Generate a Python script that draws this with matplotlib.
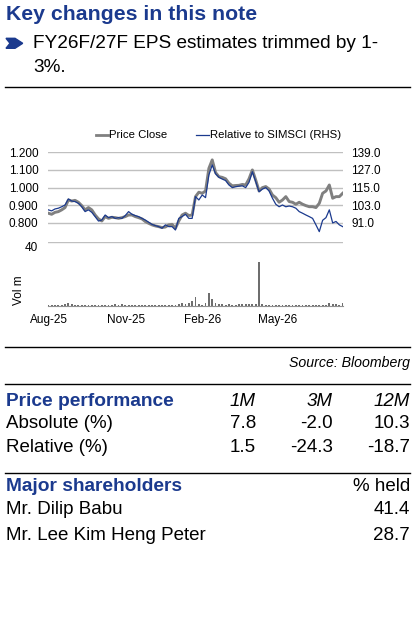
import matplotlib
matplotlib.use("Agg")
import matplotlib.pyplot as plt
from matplotlib.patches import Polygon
from matplotlib.lines import Line2D
import pandas as pd

plt.rcParams['font.family'] = ['Liberation Sans', 'DejaVu Sans']

# ---------------- data ----------------
price_close = [
    0.855, 0.849, 0.860, 0.864, 0.874, 0.887, 0.930, 0.924, 0.928, 0.917,
    0.898, 0.874, 0.887, 0.874, 0.845, 0.823, 0.811, 0.836, 0.826, 0.832,
    0.830, 0.826, 0.830, 0.836, 0.845, 0.845, 0.836, 0.830, 0.823, 0.808,
    0.798, 0.789, 0.783, 0.779, 0.774, 0.777, 0.789, 0.792, 0.770, 0.811,
    0.845, 0.855, 0.842, 0.845, 0.949, 0.974, 0.968, 0.981, 1.109, 1.157,
    1.085, 1.062, 1.058, 1.050, 1.025, 1.010, 1.012, 1.013, 1.018, 1.015,
    1.050, 1.100, 1.043, 0.981, 1.000, 1.006, 0.992, 0.958, 0.943, 0.917,
    0.930, 0.949, 0.921, 0.917, 0.906, 0.917, 0.906, 0.898, 0.892, 0.892,
    0.887, 0.911, 0.968, 0.981, 1.015, 0.940, 0.949, 0.949, 0.968,
]
relative_simsci = [
    99.9, 99.2, 100.5, 101.0, 102.0, 103.2, 107.3, 105.9, 105.5, 104.3,
    102.0, 98.7, 99.9, 98.2, 95.3, 92.3, 93.0, 96.4, 94.6, 95.3,
    94.1, 94.6, 94.1, 96.0, 98.7, 96.9, 96.0, 95.3, 94.1, 93.0,
    91.5, 90.0, 89.2, 88.5, 87.4, 89.7, 88.5, 88.5, 86.2, 94.1,
    95.3, 96.9, 94.1, 94.1, 108.9, 106.6, 110.0, 108.2, 123.6, 130.4,
    124.4, 122.0, 120.8, 119.8, 116.8, 115.0, 115.6, 116.0, 116.2, 115.0,
    118.6, 125.8, 119.1, 112.2, 114.0, 115.0, 112.7, 107.8, 103.7, 102.0,
    103.2, 102.0, 102.5, 102.0, 101.0, 98.7, 97.6, 96.4, 95.3, 94.1,
    89.7, 85.1, 92.8, 94.6, 99.9, 91.0, 92.0, 89.7, 88.5,
]
volume_m = [
    0.3, 0.5, 0.4, 0.6, 0.5, 1.0, 1.8, 0.8, 0.7, 0.6,
    0.5, 0.6, 0.4, 0.5, 0.6, 0.4, 0.5, 0.3, 0.4, 0.5,
    0.8, 0.7, 0.8, 0.6, 0.4, 0.3, 0.4, 0.3, 0.2, 0.3,
    0.2, 0.3, 0.2, 0.3, 0.4, 0.3, 0.5, 0.4, 0.6, 0.9,
    1.5, 1.0, 2.0, 3.0, 5.5, 1.0, 0.5, 1.5, 8.0, 4.5,
    1.5, 1.0, 0.8, 0.7, 0.8, 0.7, 0.6, 0.8, 1.2, 1.2,
    1.3, 0.8, 1.0, 27.5, 1.0, 0.7, 0.6, 0.7, 0.5, 0.6,
    0.5, 0.4, 0.5, 0.4, 0.3, 0.4, 0.3, 0.3, 0.4, 0.3,
    0.3, 0.4, 0.5, 0.6, 1.8, 0.8, 1.0, 0.7, 1.5,
]
dates = pd.date_range("2025-07-31", periods=len(price_close), freq="4D")

x_ticks = ["2025-08-01", "2025-11-01", "2026-02-01", "2026-05-01"]
x_tick_labels = ["Aug-25", "Nov-25", "Feb-26", "May-26"]
left_ticks = [0.8, 0.9, 1.0, 1.1, 1.2]
right_ticks = [91.0, 103.0, 115.0, 127.0, 139.0]

perf_cols = ["1M", "3M", "12M"]
perf_rows = ["Absolute (%)", "Relative (%)"]
perf_vals = [["7.8", "-2.0", "10.3"], ["1.5", "-24.3", "-18.7"]]
holders = ["Mr. Dilip Babu", "Mr. Lee Kim Heng Peter"]
holders_pct = ["41.4", "28.7"]

# ---------------- figure ----------------
W, H = 420, 617
fig = plt.figure(figsize=(W / 100, H / 100), dpi=100)
BLUE = "#1B3A8E"
GRAY = "#808080"
GRID = "#C0C0C0"
FS = 13.5

def fx(px):
    return px / W

def fy(py):
    return 1 - py / H

def hline(y, x0=5, x1=410, lw=1.0):
    fig.add_artist(Line2D([fx(x0), fx(x1)], [fy(y), fy(y)], color="black", lw=lw,
                          transform=fig.transFigure))

# header
fig.text(fx(6), fy(14), "Key changes in this note", fontsize=15.3, fontweight="bold",
         color=BLUE, va="center", ha="left")
chev = [(6, 38.3), (15, 38.3), (22.7, 43.3), (15, 48.3), (6, 48.3), (10, 43.3)]
fig.add_artist(Polygon([(fx(a), fy(b)) for a, b in chev], closed=True,
                       transform=fig.transFigure, color=BLUE))
fig.text(fx(33), fy(44), "FY26F/27F EPS estimates trimmed by 1-", fontsize=13.7,
         color="black", va="center", ha="left")
fig.text(fx(33), fy(68), "3%.", fontsize=13.7, color="black", va="center", ha="left")
hline(87.3)

# price chart
ax = fig.add_axes([fx(48.3), fy(240.6), fx(342.7) - fx(48.3), fy(152.3) - fy(240.6)])
ax.plot(dates, price_close, color=GRAY, lw=2.1, zorder=3)
ax.set_ylim(0.7, 1.2)
ax.set_yticks(left_ticks)
ax.set_yticklabels([f"{v:.3f}" for v in left_ticks])
ax.set_xlim(dates[0], dates[-1])
ax.grid(axis="y", color=GRID, lw=1.0)
ax.set_axisbelow(True)
for s in ax.spines.values():
    s.set_visible(False)
ax.tick_params(axis="both", length=0, labelsize=8.5, pad=7)
ax.set_xticks([])

ax2 = ax.twinx()
ax2.plot(dates, relative_simsci, color=BLUE, lw=0.9, zorder=4)
ax2.set_ylim(79, 139)
ax2.set_yticks(right_ticks)
ax2.set_yticklabels([f"{v:.1f}" for v in right_ticks])
for s in ax2.spines.values():
    s.set_visible(False)
ax2.tick_params(axis="y", length=0, labelsize=8.5, pad=6)
ax2.set_xlim(dates[0], dates[-1])

# legend
leg_y = 135
fig.add_artist(Line2D([fx(96), fx(108)], [fy(leg_y), fy(leg_y)], color=GRAY, lw=2.0,
                      transform=fig.transFigure))
fig.text(fx(109), fy(leg_y), "Price Close", fontsize=8.2, va="center", ha="left")
fig.add_artist(Line2D([fx(196), fx(209)], [fy(leg_y), fy(leg_y)], color=BLUE, lw=0.9,
                      transform=fig.transFigure))
fig.text(fx(210), fy(leg_y), "Relative to SIMSCI (RHS)", fontsize=8.2, va="center", ha="left")

# volume chart
axv = fig.add_axes([fx(48.3), fy(305.7), fx(342.7) - fx(48.3), fy(242) - fy(305.7)])
axv.bar(dates, volume_m, width=2.2, color="#6E6E6E", align="center")
axv.set_ylim(0, 40)
axv.set_yticks([40])
axv.set_yticklabels(["40"], va="top")
axv.set_xlim(dates[0], dates[-1])
axv.grid(axis="y", color=GRID, lw=1.0)
axv.set_axisbelow(True)
for k, s in axv.spines.items():
    s.set_visible(k == "bottom")
axv.spines["bottom"].set_color("#909090")
axv.spines["bottom"].set_linewidth(0.8)
axv.set_xticks(pd.to_datetime(x_ticks))
axv.set_xticklabels(x_tick_labels)
axv.tick_params(axis="both", length=0, labelsize=8.5)
axv.tick_params(axis="y", pad=7.5)
axv.tick_params(axis="x", pad=6)
axv.set_ylabel("Vol m", fontsize=8.5)
axv.yaxis.set_label_coords(-0.08, 0.24)

hline(347.3)
fig.text(fx(410), fy(363), "Source: Bloomberg", fontsize=10.2, style="italic",
         va="center", ha="right")

# price performance table
hline(384.3)
col_x = [256, 333, 410]
fig.text(fx(6), fy(401), "Price performance", fontsize=13.8, fontweight="bold",
         color=BLUE, va="center", ha="left")
for cx, c in zip(col_x, perf_cols):
    fig.text(fx(cx), fy(401), c, fontsize=FS, style="italic", va="center", ha="right")
row_y = [423.3, 447.3]
for ry, rname, vals in zip(row_y, perf_rows, perf_vals):
    fig.text(fx(6), fy(ry), rname, fontsize=FS, va="center", ha="left")
    for cx, v in zip(col_x, vals):
        fig.text(fx(cx), fy(ry), v, fontsize=FS, va="center", ha="right")

# shareholders
hline(472.7)
fig.text(fx(6), fy(486.7), "Major shareholders", fontsize=13.8, fontweight="bold",
         color=BLUE, va="center", ha="left")
fig.text(fx(410), fy(486.7), "% held", fontsize=FS, va="center", ha="right")
for hy, name, pct in zip([509.3, 535.0], holders, holders_pct):
    fig.text(fx(6), fy(hy), name, fontsize=FS, va="center", ha="left")
    fig.text(fx(410), fy(hy), pct, fontsize=FS, va="center", ha="right")

fig.savefig("out.png", dpi=100, facecolor="white")
